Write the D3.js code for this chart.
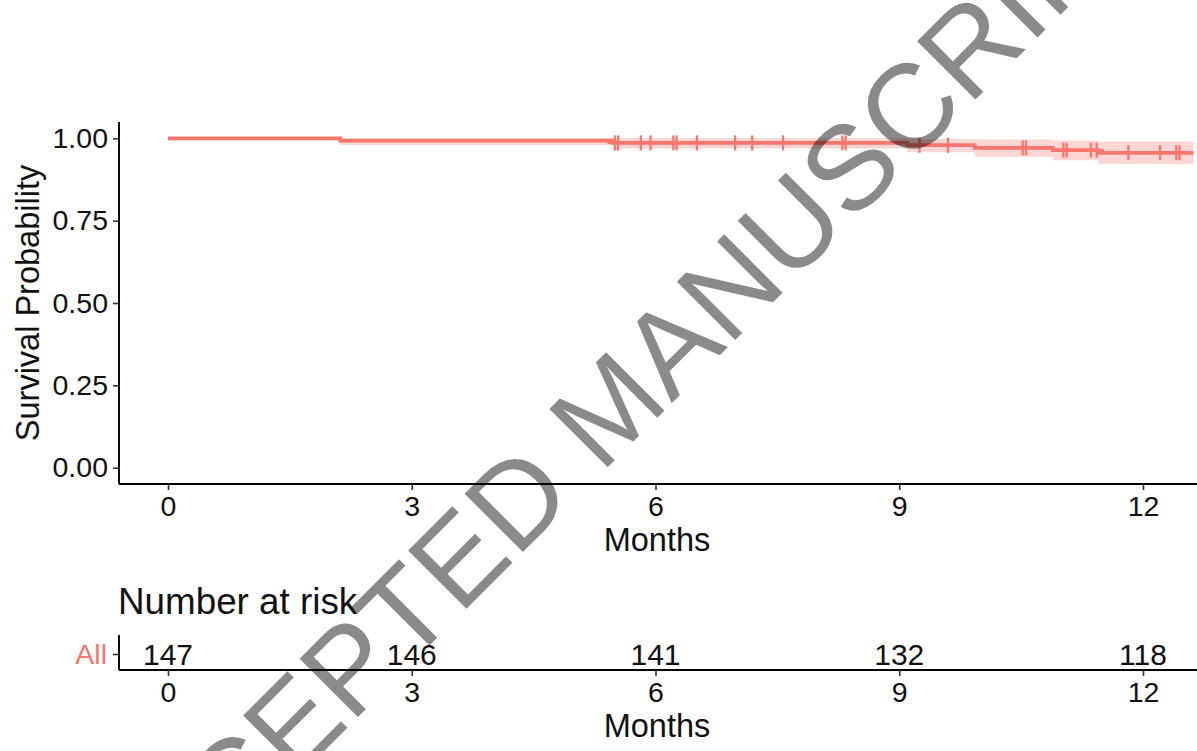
<!DOCTYPE html>
<html>
<head>
<meta charset="utf-8">
<script src="https://cdn.jsdelivr.net/npm/d3@7"></script>
<style>
  html, body { margin: 0; padding: 0; background: #fff; }
  svg { display: block; }
  text { font-family: "Liberation Sans", Arial, Helvetica, sans-serif; }
</style>
</head>
<body>
<svg id="chart" width="1197" height="751"></svg>
<script>
// Kaplan–Meier estimate (single stratum "All"), months of follow-up
const monthTicks = [0, 3, 6, 9, 12];
const probTicks = [0, 0.25, 0.5, 0.75, 1];
const stepTimes = [0, 2.12, 5.48, 9.10, 9.93, 10.89, 11.45];
const survival  = [1.000, 0.993, 0.986, 0.979, 0.971, 0.964, 0.956];
const ciUpper   = [1.000, 1.000, 1.000, 0.998, 0.996, 0.993, 0.990];
const ciLower   = [1.000, 0.980, 0.969, 0.958, 0.944, 0.933, 0.921];
const lastFollowUp = 12.62;
const censorTimes = [5.50, 5.54, 5.82, 5.94, 6.22, 6.26, 6.51, 6.98, 7.19, 7.57,
                     8.30, 8.34, 9.25, 9.60, 10.52, 10.56, 11.02, 11.06, 11.36,
                     11.43, 11.82, 12.21, 12.41, 12.45];
const riskTimes = [0, 3, 6, 9, 12];
const atRisk = [147, 146, 141, 132, 118];
const strataName = "All";

const curveColor = "#F8766D";
const svg = d3.select("#chart");

// shared horizontal scale for survival panel and risk table
const x = d3.scaleLinear().domain([0, 12]).range([168, 1143]);
const panelLeft = 119, panelRight = 1197;

// ---------- survival panel ----------
const y = d3.scaleLinear().domain([0, 1]).range([467.7, 138.3]);
const panelTop = 122, panelBottom = 484;

const steps = stepTimes.map((t, i) => ({ t, s: survival[i], lo: ciLower[i], hi: ciUpper[i] }));
steps.push({ t: lastFollowUp, s: survival[survival.length - 1],
             lo: ciLower[ciLower.length - 1], hi: ciUpper[ciUpper.length - 1] });

const band = d3.area()
  .curve(d3.curveStepAfter)
  .x(d => x(d.t)).y0(d => y(d.lo)).y1(d => y(d.hi));
svg.append("path").datum(steps)
  .attr("d", band)
  .attr("fill", curveColor).attr("fill-opacity", 0.3);

const line = d3.line()
  .curve(d3.curveStepAfter)
  .x(d => x(d.t)).y(d => y(d.s));
svg.append("path").datum(steps)
  .attr("d", line)
  .attr("fill", "none").attr("stroke", curveColor).attr("stroke-width", 3.8);

// survival value at a given time (right-continuous step)
function survAt(t) {
  let s = survival[0];
  stepTimes.forEach((st, i) => { if (st <= t) s = survival[i]; });
  return s;
}
const marks = svg.append("g");
censorTimes.forEach(t => {
  const cx = x(t), cy = y(survAt(t));
  marks.append("line").attr("x1", cx).attr("x2", cx).attr("y1", cy - 7.5).attr("y2", cy + 7.5)
    .attr("stroke", curveColor).attr("stroke-width", 2.3);
  marks.append("line").attr("x1", cx - 7.5).attr("x2", cx + 7.5).attr("y1", cy).attr("y2", cy)
    .attr("stroke", curveColor).attr("stroke-width", 2.3);
});

// axes
const axisColor = "#000";
const tickFont = 28.5;

const yAxis = svg.append("g").attr("transform", `translate(${panelLeft},0)`)
  .call(d3.axisLeft(y).tickValues(probTicks).tickFormat(d3.format(".2f")).tickSize(6).tickPadding(5));
yAxis.select(".domain").attr("d", `M0,${panelTop}V${panelBottom}`);

const xAxis = svg.append("g").attr("transform", `translate(0,${panelBottom})`)
  .call(d3.axisBottom(x).tickValues(monthTicks).tickFormat(d3.format("d")).tickSize(6).tickPadding(6));
xAxis.select(".domain").attr("d", `M${panelLeft},0H${panelRight}`);

[yAxis, xAxis].forEach(g => {
  g.select(".domain").attr("stroke", axisColor).attr("stroke-width", 1.9);
  g.selectAll(".tick line").attr("stroke", "#333").attr("stroke-width", 1.6);
  g.selectAll(".tick text").attr("fill", "#111").style("font-size", tickFont + "px")
    .style("font-family", '"Liberation Sans", Arial, Helvetica, sans-serif');
});

svg.append("text")
  .attr("transform", `translate(39,${(panelTop + panelBottom) / 2}) rotate(-90)`)
  .attr("text-anchor", "middle").style("font-size", "32.5px").attr("fill", "#111")
  .text("Survival Probability");

svg.append("text")
  .attr("x", (panelLeft + 1195) / 2).attr("y", 551)
  .attr("text-anchor", "middle").style("font-size", "32.5px").attr("fill", "#111")
  .text("Months");

// ---------- number-at-risk table ----------
const riskTop = 635, riskBottom = 670, riskRow = 654;

svg.append("text")
  .attr("x", 118).attr("y", 614)
  .style("font-size", "36.8px").attr("fill", "#111")
  .text("Number at risk");

svg.append("g").selectAll("text").data(riskTimes).join("text")
  .attr("x", d => x(d)).attr("y", riskRow)
  .attr("dy", "0.36em")
  .attr("text-anchor", "middle").style("font-size", "30px").attr("fill", "#111")
  .text((d, i) => atRisk[i]);

const riskY = d3.scalePoint().domain([strataName]).range([riskRow, riskRow]);
const rAxisY = svg.append("g").attr("transform", `translate(${panelLeft},0)`)
  .call(d3.axisLeft(riskY).tickSize(6).tickPadding(6));
rAxisY.select(".domain").attr("d", `M0,${riskTop}V${riskBottom}`);
rAxisY.selectAll(".tick text").attr("fill", curveColor).style("font-size", tickFont + "px")
  .style("font-family", '"Liberation Sans", Arial, Helvetica, sans-serif');

const rAxisX = svg.append("g").attr("transform", `translate(0,${riskBottom})`)
  .call(d3.axisBottom(x).tickValues(riskTimes).tickFormat(d3.format("d")).tickSize(6).tickPadding(6));
rAxisX.select(".domain").attr("d", `M${panelLeft},0H${panelRight}`);

[rAxisY, rAxisX].forEach(g => {
  g.select(".domain").attr("stroke", axisColor).attr("stroke-width", 1.9);
  g.selectAll(".tick line").attr("stroke", "#333").attr("stroke-width", 1.6);
});
rAxisX.selectAll(".tick text").attr("fill", "#111").style("font-size", tickFont + "px")
  .style("font-family", '"Liberation Sans", Arial, Helvetica, sans-serif');

svg.append("text")
  .attr("x", (panelLeft + 1195) / 2).attr("y", 737)
  .attr("text-anchor", "middle").style("font-size", "32.5px").attr("fill", "#111")
  .text("Months");

// ---------- diagonal stamp ----------
svg.append("text")
  .attr("transform", "translate(608,406) rotate(-45)")
  .attr("text-anchor", "middle").attr("dy", "0.36em")
  .style("font-size", "120px").attr("fill", "#000").attr("fill-opacity", 0.46)
  .text("ACCEPTED MANUSCRIPT");
</script>
</body>
</html>
